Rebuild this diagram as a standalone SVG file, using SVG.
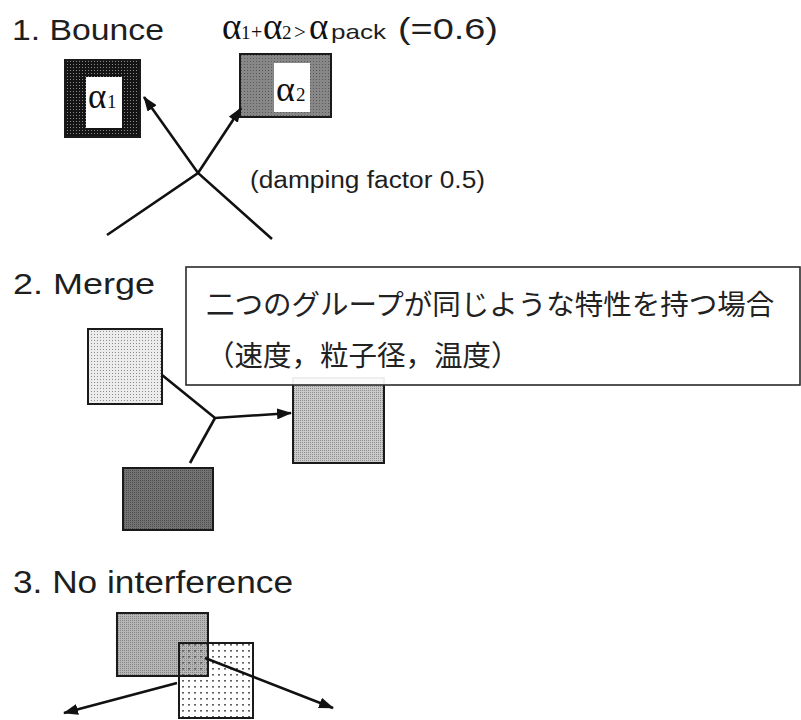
<svg xmlns="http://www.w3.org/2000/svg" width="801" height="720" viewBox="0 0 801 720">
<defs>
<style>
.t{font-family:"Liberation Sans",Arial,sans-serif;fill:#1e1e1e}
.s{font-family:"Liberation Serif","Times New Roman",serif;fill:#111}
.jp{font-family:"Noto Sans CJK JP",sans-serif;font-size:28.5px;fill:#222}
.ln{fill:none;stroke:#111;stroke-width:2.6;stroke-linejoin:miter}
.bx{stroke:#1a1a1a;stroke-width:2}
</style>
<pattern id="pBlack" width="3" height="3" patternUnits="userSpaceOnUse"><rect width="3" height="3" fill="#141414"/><rect x="1" y="1" width="1" height="1" fill="#8a8a8a"/></pattern>
<pattern id="pMid" width="3" height="3" patternUnits="userSpaceOnUse"><rect width="3" height="3" fill="#878787"/><rect x="1" y="1" width="1" height="1" fill="#5a5a5a"/></pattern>
<pattern id="pLight" width="3" height="3" patternUnits="userSpaceOnUse"><rect width="3" height="3" fill="#ececec"/><rect x="1" y="1" width="1" height="1" fill="#8c8c8c"/></pattern>
<pattern id="pDark" width="2" height="2" patternUnits="userSpaceOnUse"><rect width="2" height="2" fill="#737373"/><rect width="1" height="1" fill="#4e4e4e"/></pattern>
<pattern id="pMed" width="2" height="2" patternUnits="userSpaceOnUse"><rect width="2" height="2" fill="#cacaca"/><rect width="1" height="1" fill="#8e8e8e"/></pattern>
<pattern id="pGray" width="2" height="2" patternUnits="userSpaceOnUse"><rect width="2" height="2" fill="#b6b6b6"/><rect width="1" height="1" fill="#858585"/></pattern>
<pattern id="pDots" width="6" height="6" patternUnits="userSpaceOnUse"><rect x="2" y="2" width="2" height="1.6" fill="#606060"/></pattern>
<marker id="ah" markerUnits="userSpaceOnUse" markerWidth="15" markerHeight="11" refX="14" refY="5.5" orient="auto"><path d="M0,0 L15,5.5 L0,11 z" fill="#111"/></marker>
</defs>
<rect width="801" height="720" fill="#fff"/>

<g id="titles">
<text class="t" x="12" y="40" font-size="30" textLength="152" lengthAdjust="spacingAndGlyphs">1. Bounce</text>
<text class="t" x="13" y="294" font-size="30" textLength="142" lengthAdjust="spacingAndGlyphs">2. Merge</text>
<text class="t" x="13" y="593" font-size="31" textLength="280" lengthAdjust="spacingAndGlyphs">3. No interference</text>
</g>

<g id="formula">
<text class="s" y="39"><tspan x="222" font-size="37">α</tspan><tspan x="241" font-size="19">1</tspan><tspan x="251" font-size="20">+</tspan><tspan x="263" font-size="37">α</tspan><tspan x="282" font-size="19">2</tspan><tspan x="294" font-size="21">&gt;</tspan><tspan x="309" font-size="37">α</tspan></text>
<text class="t" x="331" y="39" font-size="21" textLength="55" lengthAdjust="spacingAndGlyphs">pack</text>
<text class="t" x="398" y="39" font-size="30" textLength="100" lengthAdjust="spacingAndGlyphs">(=0.6)</text>
</g>

<g id="alpha1">
<rect class="bx" x="65" y="60" width="75" height="77" fill="url(#pBlack)"/>
<rect x="86" y="77" width="36" height="51" fill="#fff"/>
<text class="s" y="108"><tspan x="88" font-size="35">α</tspan><tspan x="107" font-size="19">1</tspan></text>
</g>

<g id="alpha2">
<rect class="bx" x="240" y="54" width="91" height="63" fill="url(#pMid)"/>
<rect x="274" y="63" width="36" height="49" fill="#fff"/>
<text class="s" y="101"><tspan x="276" font-size="36">α</tspan><tspan x="296" font-size="19">2</tspan></text>
</g>

<g id="damping">
<text class="t" x="250" y="188" font-size="23" textLength="235" lengthAdjust="spacingAndGlyphs">(damping factor 0.5)</text>
</g>

<g id="merge-a">
<rect class="bx" x="88" y="329" width="74" height="75" fill="url(#pLight)"/>
</g>
<g id="merge-b">
<rect class="bx" x="123" y="468" width="90" height="62" fill="url(#pDark)"/>
</g>
<g id="merge-c">
<rect class="bx" x="293" y="378" width="91" height="85" fill="url(#pMed)"/>
</g>

<g id="note">
<rect x="186" y="267" width="614" height="118" fill="#fff" fill-opacity="0.93" stroke="#2a2a2a" stroke-width="1.6"/>
<text class="jp" x="206" y="315">二つのグループが同じような特性を持つ場合</text>
<text class="jp" x="206" y="366">（速度，粒子径，温度）</text>
</g>

<g id="ni-a">
<rect x="117" y="613" width="91" height="63" fill="url(#pGray)"/>
</g>
<g id="ni-b">
<rect class="bx" x="179" y="643" width="74" height="75" fill="url(#pDots)"/>
<rect class="bx" x="117" y="613" width="91" height="63" fill="none"/>
</g>

<g id="connectors">
<polyline class="ln" points="107,235 198,173 241,108" marker-end="url(#ah)"/>
<polyline class="ln" points="272,239 198,173 144,97" marker-end="url(#ah)"/>
<polyline class="ln" points="162,375 215,418 291,413" marker-end="url(#ah)"/>
<line class="ln" x1="215" y1="418" x2="190" y2="463"/>
<line class="ln" x1="177" y1="683" x2="64" y2="713" marker-end="url(#ah)"/>
<line class="ln" x1="205" y1="658" x2="333" y2="708" marker-end="url(#ah)"/>
</g>
</svg>
